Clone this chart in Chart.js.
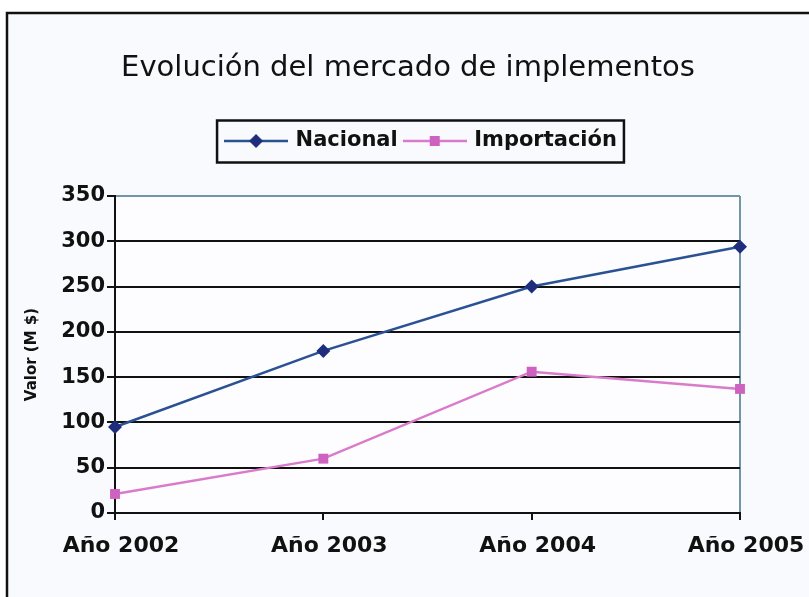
<!DOCTYPE html>
<html>
<head>
<meta charset="utf-8">
<script src="https://cdn.jsdelivr.net/npm/chart.js@4"></script>
<style>
  html, body { margin: 0; padding: 0; background: #ffffff; }
  #wrap { width: 809px; height: 597px; }
</style>
</head>
<body>
<div id="wrap"><canvas id="grafico" width="809" height="597"></canvas></div>
<script>
// datos
const anios = ['Año 2002', 'Año 2003', 'Año 2004', 'Año 2005'];
const nacional = [95, 179, 250, 294];
const importacion = [21, 60, 156, 137];
const ejeY = [0, 50, 100, 150, 200, 250, 300, 350];

const azulLinea = '#2a5293';
const azulMarca = '#1e2e7c';
const rosaLinea = '#d97bca';
const rosaMarca = '#cf62c0';

// muestra de leyenda: linea con marcador al medio
function muestra(color, relleno, tipo) {
  const c = document.createElement('canvas');
  c.width = 64; c.height = 16;
  const g = c.getContext('2d');
  g.strokeStyle = color;
  g.lineWidth = 2.5;
  g.beginPath(); g.moveTo(0, 8); g.lineTo(64, 8); g.stroke();
  g.fillStyle = relleno;
  g.beginPath();
  if (tipo === 'rombo') {
    g.moveTo(32, 1); g.lineTo(39, 8); g.lineTo(32, 15); g.lineTo(25, 8);
  } else {
    g.rect(27, 3, 10, 10);
  }
  g.closePath(); g.fill();
  return c;
}

const fondo = {
  id: 'fondo',
  afterLayout(chart) {
    // el titulo y la leyenda van mas a la derecha que el area del grafico
    const d = 740 - chart.chartArea.right;
    chart.titleBlock.left += 38 - d / 2;
    chart.titleBlock.right += 38 - d / 2;
    chart.legend.left += 52 - d / 2;
    chart.legend.right += 52 - d / 2;
  },
  beforeDraw(chart) {
    const ctx = chart.ctx;
    const a = chart.chartArea;
    ctx.save();
    ctx.fillStyle = '#ffffff';
    ctx.fillRect(0, 0, chart.width, chart.height);
    ctx.fillStyle = '#f9fafd';
    ctx.fillRect(7, 13, chart.width, chart.height);
    ctx.strokeStyle = '#111111';
    ctx.lineWidth = 2.5;
    ctx.strokeRect(7, 13, chart.width + 20, chart.height + 20);
    ctx.fillStyle = '#fdfdff';
    ctx.fillRect(a.left, a.top, a.right - a.left, a.bottom - a.top);
    ctx.restore();
  },
  afterDraw(chart) {
    // marco de la leyenda
    const cajas = chart.legend.legendHitBoxes;
    if (!cajas || !cajas.length) return;
    let izq = Infinity, der = -Infinity;
    cajas.forEach(function (b) {
      izq = Math.min(izq, b.left);
      der = Math.max(der, b.left + b.width);
    });
    const arriba = cajas[0].top;
    const ctx = chart.ctx;
    ctx.save();
    ctx.strokeStyle = '#111111';
    ctx.lineWidth = 2.5;
    ctx.strokeRect(izq - 10, arriba - 10, der - izq + 17, cajas[0].height + 21);
    ctx.restore();
  }
};

const margenLeyenda = {
  id: 'margenLeyenda',
  beforeInit(chart) {
    const fitOriginal = chart.legend.fit;
    chart.legend.fit = function fit() {
      fitOriginal.bind(chart.legend)();
      this.height += 34.5;
    };
  }
};

new Chart(document.getElementById('grafico'), {
  type: 'line',
  data: {
    labels: anios,
    datasets: [
      {
        label: 'Nacional',
        data: nacional,
        borderColor: azulLinea,
        backgroundColor: azulMarca,
        borderWidth: 2.5,
        pointStyle: 'rectRot',
        pointRadius: 7,
        pointBorderWidth: 0,
        tension: 0
      },
      {
        label: 'Importación',
        data: importacion,
        borderColor: rosaLinea,
        backgroundColor: rosaMarca,
        borderWidth: 2.5,
        pointStyle: 'rect',
        pointRadius: 7,
        pointBorderWidth: 0,
        tension: 0
      }
    ]
  },
  options: {
    responsive: false,
    animation: false,
    layout: { padding: { left: 0, right: 69, top: 0, bottom: 24 } },
    plugins: {
      title: {
        display: true,
        text: 'Evolución del mercado de implementos',
        color: '#111111',
        font: { family: 'DejaVu Sans', size: 29, weight: 'normal' },
        padding: { top: 50.6, bottom: 37.1 }
      },
      legend: {
        display: true,
        labels: {
          usePointStyle: true,
          pointStyleWidth: 58,
          padding: 8,
          color: '#111111',
          font: { family: 'DejaVu Sans', size: 21, weight: 'bold' },
          generateLabels(chart) {
            const items = Chart.defaults.plugins.legend.labels.generateLabels(chart);
            items[0].pointStyle = muestra(azulLinea, azulMarca, 'rombo');
            items[1].pointStyle = muestra(rosaLinea, rosaMarca, 'cuadro');
            return items;
          }
        }
      },
      tooltip: { enabled: false }
    },
    scales: {
      x: {
        offset: false,
        afterFit(scale) {
          scale.height = 60;
          scale.paddingRight = 0;
        },
        grid: {
          display: true,
          drawOnChartArea: true,
          color: function (ctx) { return ctx.index === 3 ? '#7196a7' : 'rgba(0,0,0,0)'; },
          tickColor: '#111111',
          lineWidth: 2,
          tickLength: 7
        },
        border: { display: true, color: '#111111', width: 2 },
        ticks: {
          color: '#111111',
          padding: 13,
          labelOffset: 6,
          maxRotation: 0,
          font: { family: 'DejaVu Sans', size: 22, weight: 'bold' }
        }
      },
      y: {
        min: 0,
        max: 350,
        afterFit(scale) { scale.width = 115; },
        afterBuildTicks(scale) { scale.ticks = ejeY.map(v => ({ value: v })); },
        grid: {
          color: function (ctx) { return ctx.tick && ctx.tick.value === 350 ? '#7196a7' : '#111111'; },
          tickColor: '#111111',
          lineWidth: 2,
          tickLength: 8
        },
        border: { display: true, color: '#111111', width: 2 },
        ticks: {
          color: '#111111',
          padding: 2,
          font: { family: 'DejaVu Sans', size: 21, weight: 'bold' }
        },
        title: {
          display: true,
          text: 'Valor (M $)',
          color: '#111111',
          padding: { top: 23, bottom: 0 },
          font: { family: 'DejaVu Sans', size: 15, weight: 'bold' }
        }
      }
    }
  },
  plugins: [fondo, margenLeyenda]
});
</script>
</body>
</html>
